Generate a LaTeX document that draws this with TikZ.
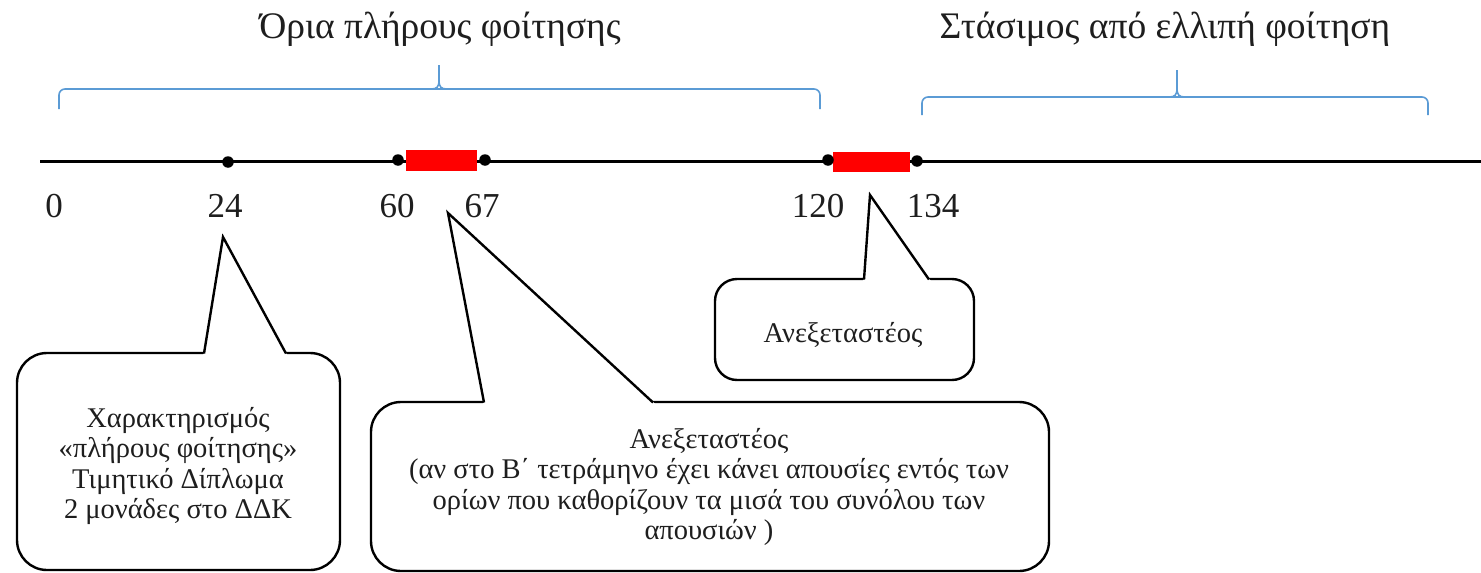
\documentclass[tikz,border=0pt]{standalone}
\usepackage{fontspec}
\setmainfont{Liberation Serif}
\definecolor{braceblue}{RGB}{91,155,213}
\definecolor{txt}{RGB}{30,30,30}
\begin{document}
\begin{tikzpicture}[x=1pt,y=-1pt,
  brace/.style={draw=braceblue,line width=1.6pt,rounded corners=6pt},
  bracetick/.style={draw=braceblue,line width=1.6pt},
  callout/.style={draw=black,line width=2.4pt,fill=white,rounded corners=30pt,inner sep=0pt},
  ptr/.style={draw=black,line width=2.4pt,line join=miter},
  dot/.style={circle,fill=black,inner sep=0pt,minimum size=11.5pt},
  redbar/.style={fill=red,draw=none,inner sep=0pt},
  tick/.style={font=\fontsize{35}{40}\selectfont,anchor=base,inner sep=0pt,text=txt},
  title/.style={font=\fontsize{37.5}{42}\selectfont,anchor=base,inner sep=0pt,text=txt},
  boxtext/.style={font=\fontsize{28.5}{30.5}\selectfont,align=center,inner sep=0pt,text=txt}]
\useasboundingbox (0,0) rectangle (1481,573);

% titles
\node[title] (t1) at (440,38) {Όρια πλήρους φοίτησης};
\node[title] (t2) at (1165,38) {Στάσιμος από ελλιπή φοίτηση};

% braces
\draw[brace] (59,109) -- (59,89) -- (820,89) -- (820,109);
\draw[bracetick] (431,89) .. controls (437,89) and (439,87) .. (439,80) -- (439,65);
\draw[bracetick] (447,89) .. controls (441,89) and (439,87) .. (439,80);
\draw[brace] (922,115) -- (922,97) -- (1428,97) -- (1428,115);
\draw[bracetick] (1169,97) .. controls (1175,97) and (1177,95) .. (1177,88) -- (1177,70);
\draw[bracetick] (1185,97) .. controls (1179,97) and (1177,95) .. (1177,88);

% main line
\coordinate (L0) at (40,161);
\coordinate (L1) at (1481,161);
\draw[line width=3pt] (L0) -- (L1);

% red bars
\node[redbar,minimum width=71pt,minimum height=21pt] (r1) at (441.5,160.5) {};
\node[redbar,minimum width=77pt,minimum height=20pt] (r2) at (871.5,162) {};

% dots
\node[dot] (d24) at (228,162) {};
\node[dot] (d60) at (398,160) {};
\node[dot] (d67) at (485,160) {};
\node[dot] (d120) at (828,160) {};
\node[dot] (d134) at (917,161) {};

% tick labels
\node[tick] (n0) at (54,217) {0};
\node[tick] (n24) at (225,217) {24};
\node[tick] (n60) at (397,217) {60};
\node[tick] (n67) at (482,217) {67};
\node[tick] (n120) at (818,217) {120};
\node[tick] (n134) at (933,217) {134};

% left callout
\node[callout,minimum width=323pt,minimum height=217pt] (b1) at (178.5,461.5) {};
\fill[white] (202.5,356) -- (204,353) -- (223,237) -- (286,353) -- (288,356) -- cycle;
\coordinate (p1) at (223,237);
\draw[ptr] (204,353.5) -- (p1) -- (286,353.5);
\node[boxtext] (x1) at (178,466) {Χαρακτηρισμός\\«πλήρους φοίτησης»\\Τιμητικό Δίπλωμα\\2 μονάδες στο ΔΔΚ};

% middle callout
\node[callout,minimum width=678pt,minimum height=169pt] (b2) at (710,486.5) {};
\fill[white] (482,405) -- (484,402) -- (448,213) -- (653,402) -- (656,405) -- cycle;
\coordinate (p2) at (448,213);
\draw[ptr] (484,402.5) -- (p2) -- (653,402.5);
\node[boxtext] (x2) at (709,487) {Ανεξεταστέος\\(αν στο Β΄ τετράμηνο έχει κάνει απουσίες εντός των\\ορίων που καθορίζουν τα μισά του συνόλου των\\απουσιών )};

% right callout
\node[callout,rounded corners=22pt,minimum width=259pt,minimum height=101pt] (b3) at (844.5,329.5) {};
\fill[white] (862,282) -- (864,279) -- (870,195) -- (929,279) -- (932,282) -- cycle;
\coordinate (p3) at (870,195);
\draw[ptr] (864,279.5) -- (p3) -- (929,279.5);
\node[boxtext] (x3) at (843,335) {Ανεξεταστέος};
\end{tikzpicture}
\end{document}
